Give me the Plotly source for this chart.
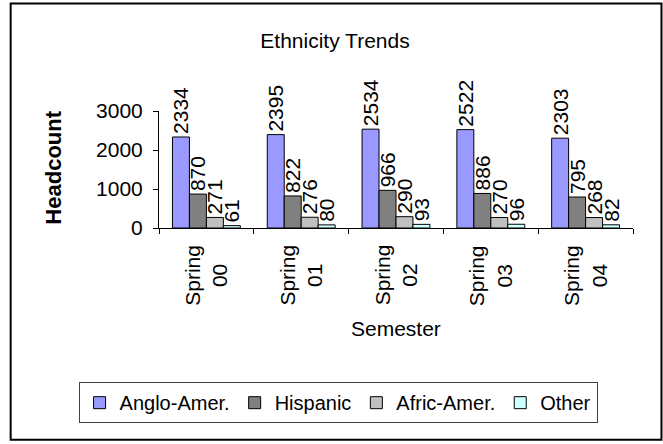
import plotly.graph_objects as go

# ---- data ----
semesters = ["Spring 00", "Spring 01", "Spring 02", "Spring 03", "Spring 04"]
tick_labels = ["Spring<br>00", "Spring<br>01", "Spring<br>02", "Spring<br>03", "Spring<br>04"]
anglo = [2334, 2395, 2534, 2522, 2303]
hispanic = [870, 822, 966, 886, 795]
afric = [271, 276, 290, 270, 268]
other = [61, 80, 93, 96, 82]
series_names = ["Anglo-Amer.", "Hispanic", "Afric-Amer.", "Other"]
series_colors = ["#9999FF", "#808080", "#C0C0C0", "#CCFFFF"]
series_values = [anglo, hispanic, afric, other]

# ---- layout constants (pixels) ----
W, H = 663, 444
L, R, T, B = 158.5, 30, 110.5, 215.5
PW = W - L - R
PH = H - T - B
FONT = "Liberation Sans, Arial, sans-serif"


def px_x(px):
    return (px - L) / PW


def px_y(py):
    return (H - B - py) / PH


fig = go.Figure()
for name, color, vals in zip(series_names, series_colors, series_values):
    fig.add_trace(go.Bar(
        x=semesters, y=vals, name=name,
        marker=dict(color=color, line=dict(color="black", width=1)),
        text=[str(v) for v in vals],
        textposition="outside",
        textangle=-90,
        constraintext="none",
        cliponaxis=False,
        textfont=dict(family=FONT, size=21, color="black"),
    ))

annotations = []
for cat, lab in zip(semesters, tick_labels):
    annotations.append(dict(
        x=cat, xref="x", y=px_y(243.5), yref="paper",
        text=lab, textangle=-90, showarrow=False,
        xanchor="center", yanchor="top", align="center",
        font=dict(family=FONT, size=21, color="black"),
    ))
annotations.append(dict(
    x=px_x(395.5), xref="paper", y=px_y(330), yref="paper",
    text="Semester", showarrow=False, xanchor="center", yanchor="middle",
    font=dict(family=FONT, size=21, color="black"),
))
annotations.append(dict(
    x=px_x(52.5), xref="paper", y=px_y(167.5), yref="paper",
    text="<b>Headcount</b>", textangle=-90, showarrow=False,
    xanchor="center", yanchor="middle",
    font=dict(family=FONT, size=22, color="black"),
))

fig.update_layout(
    width=W, height=H,
    margin=dict(l=L, r=R, t=T, b=B, autoexpand=False),
    paper_bgcolor="white", plot_bgcolor="white",
    barmode="group", bargap=0.284, bargroupgap=0,
    font=dict(family=FONT, size=20, color="black"),
    title=dict(text="Ethnicity Trends", x=335 / W, xref="container", xanchor="center",
               y=1 - 40.5 / H, yref="container", yanchor="middle",
               font=dict(family=FONT, size=21, color="black")),
    showlegend=True,
    legend=dict(orientation="h", xref="paper", x=px_x(78), xanchor="left",
                yref="paper", y=px_y(384), yanchor="top",
                bordercolor="#404040", borderwidth=1, bgcolor="white",
                font=dict(family=FONT, size=20, color="black"),
                itemwidth=30, traceorder="normal"),
    annotations=annotations,
    shapes=[dict(type="rect", xref="paper", yref="paper",
                 x0=px_x(10), x1=px_x(661.5), y0=px_y(2), y1=px_y(442),
                 line=dict(color="black", width=2), layer="below")],
)
fig.update_xaxes(
    showline=True, linecolor="black", linewidth=1,
    ticks="outside", ticklen=5, tickcolor="black", tickson="boundaries",
    showticklabels=False, showgrid=False, zeroline=False,
)
fig.update_yaxes(
    range=[0, 3000], tickvals=[0, 1000, 2000, 3000],
    showline=True, linecolor="black", linewidth=1,
    ticks="outside", ticklen=5, tickcolor="black",
    tickfont=dict(family=FONT, size=21, color="black"),
    ticklabelstandoff=6,
    showgrid=False, zeroline=False,
)

fig.write_html("out.html", config={"displayModeBar": False},
               post_script="document.body.style.margin='0';")
